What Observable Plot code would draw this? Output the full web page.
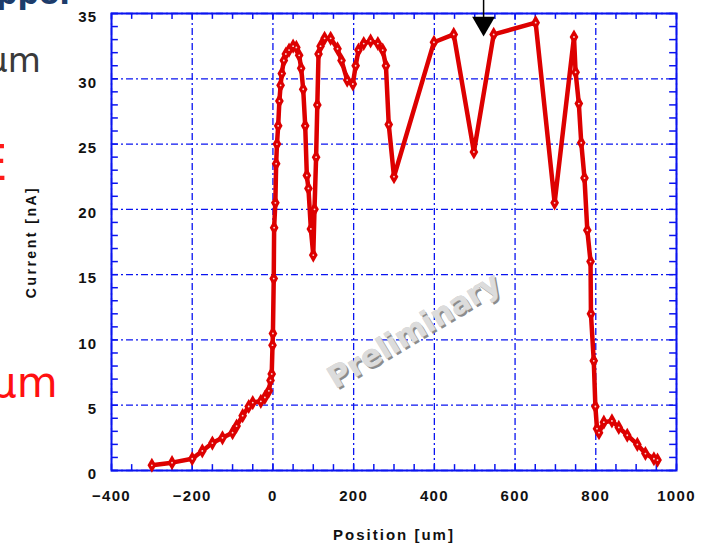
<!DOCTYPE html>
<html>
<head>
<meta charset="utf-8">
<script src="https://cdn.jsdelivr.net/npm/d3@7"></script>
<script src="https://cdn.jsdelivr.net/npm/@observablehq/plot@0.6"></script>
<style>
  html, body { margin: 0; padding: 0; background: #ffffff; }
  #wrap { position: relative; width: 701px; height: 547px; overflow: hidden; background: #fff; }
  #chart { position: absolute; left: 0; top: 0; }
  .frag { position: absolute; white-space: nowrap; font-family: "DejaVu Sans", sans-serif; }
  .wm { letter-spacing: 0px; }
</style>
</head>
<body>
<div id="wrap">
  <div id="chart"></div>
  <div class="frag" style="left:-4px; top:-24px; font-size:30px; font-weight:bold; color:#1d3c6b;">ppor</div>
  <div class="frag" style="left:-14px; top:40px; font-size:34px; color:#3a3a3a;">μm</div>
  <div class="frag" style="left:-24px; top:134px; font-size:50px; color:#ff1a1a;">E</div>
  <div class="frag" style="left:-10px; top:358px; font-size:42px; color:#ff1010;">μm</div>
</div>
<script>
// ---- data ----
const positions = [
  -300, -250, -200, -175, -150, -125, -100, -90, -75, -60, -50, -30, -20, -10, -6, -3,
  -1, 0, 2, 3, 6, 8, 10, 13, 16, 19, 22, 27, 32, 40, 50, 58, 65, 70, 75, 80, 84, 88,
  94, 100, 103, 107, 110, 113, 118, 128, 143, 160, 170, 184, 198, 205, 212, 225, 242,
  260, 272, 280, 287, 300, 399, 448, 498, 547, 651, 698, 746, 750, 758, 764, 772, 779,
  787, 788, 795, 799, 803, 808, 820, 840, 857, 878, 903, 923, 944, 953
];
const currents = [
  0.4, 0.6, 0.9, 1.5, 2.1, 2.5, 2.9, 3.4, 4.2, 4.9, 5.2, 5.3, 5.6, 6.1, 6.9, 7.4,
  9.6, 10.5, 14.7, 18.6, 20.5, 23.5, 25.0, 26.4, 28.3, 29.5, 30.4, 31.4, 31.9, 32.2, 32.5, 32.4, 31.8, 30.8, 29.2, 26.4, 22.6, 21.6,
  18.5, 16.5, 20.0, 24.0, 28.0, 31.9, 32.5, 33.1, 33.1, 32.3, 31.4, 29.9, 29.6, 31.0, 32.2, 32.7, 32.9,
  32.7, 32.2, 31.0, 26.5, 22.5, 32.8, 33.4, 24.4, 33.4, 34.3, 20.5, 33.2, 30.5, 28.1, 25.1, 22.4, 18.4,
  16.0, 12.0, 8.4, 4.9, 3.2, 2.9, 3.7, 3.8, 3.3, 2.7, 2.0, 1.3, 0.9, 0.8
];
const xTicks = [-400, -200, 0, 200, 400, 600, 800, 1000];
const yTicks = [0, 5, 10, 15, 20, 25, 30, 35];
const xMinorTicks = [-400,-350,-300,-250,-200,-150,-100,-50,0,50,100,150,200,250,300,350,400,450,500,550,600,650,700,750,800,850,900,950,1000];
const yMinorTicks = [0,1,2,3,4,5,6,7,8,9,10,11,12,13,14,15,16,17,18,19,20,21,22,23,24,25,26,27,28,29,30,31,32,33,34,35];
const xLabel = "Position [um]";
const yLabel = "Current [nA]";
const watermark = "Preliminary";
const arrowX = 522;

const data = positions.map((x, i) => ({x, y: currents[i]}));

const blue = "#0a14f0";
const red = "#dd0000";
const tickFont = {fontSize: 15, fontWeight: "bold", fill: "#111"};

const chart = Plot.plot({
  width: 701,
  height: 547,
  marginLeft: 111,
  marginRight: 25,
  marginTop: 13,
  marginBottom: 77,
  style: {fontFamily: "'Liberation Sans', Arial, sans-serif", letterSpacing: "1.3px", background: "transparent"},
  x: {domain: [-400, 1000]},
  y: {domain: [0, 35]},
  marks: [
    Plot.gridX(xTicks, {stroke: blue, strokeOpacity: 1, strokeWidth: 1.3, strokeDasharray: "7,3,2,3"}),
    Plot.gridY(yTicks, {stroke: blue, strokeOpacity: 1, strokeWidth: 1.3, strokeDasharray: "7,3,2,3"}),
    // inward minor/major ticks on all four sides
    Plot.ruleX(xMinorTicks, {x: d => d, y1: 0, y2: 0.45, stroke: blue, strokeWidth: 1.5}),
    Plot.ruleX(xMinorTicks, {x: d => d, y1: 35, y2: 34.55, stroke: blue, strokeWidth: 1.5}),
    Plot.ruleY(yMinorTicks, {y: d => d, x1: -400, x2: -383, stroke: blue, strokeWidth: 1.5}),
    Plot.ruleY(yMinorTicks, {y: d => d, x1: 1000, x2: 983, stroke: blue, strokeWidth: 1.5}),
    Plot.frame({stroke: blue, strokeWidth: 2}),
    Plot.axisX({ticks: xTicks, tickFormat: d3.format("d"), tickSize: 0, tickPadding: 20, label: null, ...tickFont}),
    Plot.axisY({ticks: yTicks, tickFormat: d3.format("d"), tickSize: 0, tickPadding: 14, label: null, dy: 4, ...tickFont}),
    Plot.text([xLabel], {frameAnchor: "bottom", dy: 69, fontSize: 15, fontWeight: "bold", fill: "#111"}),
    Plot.text([yLabel], {frameAnchor: "left", textAnchor: "middle", dx: -80, dy: 0, rotate: -90, fontSize: 14, fontWeight: "bold", fill: "#111"}),
    // watermark
    Plot.text([watermark], {x: () => 350, y: () => 10.7, dx: 2, dy: 2, rotate: -31, fontSize: 30, fontWeight: "bold", fontFamily: "'DejaVu Sans', sans-serif", fill: "#8c8c8c", className: "wm"}),
    Plot.text([watermark], {x: () => 350, y: () => 10.7, rotate: -31, fontSize: 30, fontWeight: "bold", fontFamily: "'DejaVu Sans', sans-serif", fill: "#dcdcdc", stroke: "#c4c4c4", strokeWidth: 0.5, className: "wm"}),
    // data
    Plot.line(data, {x: "x", y: "y", stroke: red, strokeWidth: 4.5, strokeLinejoin: "round"}),
    Plot.dot(data, {x: "x", y: "y", symbol: "diamond", r: 4.6, fill: red}),
    Plot.dot(data, {x: "x", y: "y", r: 0.9, fill: "#ffffff", fillOpacity: 0.85}),
    // arrow annotation at top
    Plot.ruleX([arrowX], {x: d => d, y1: 36.2, y2: 34.5, stroke: "#000", strokeWidth: 1.5}),
    Plot.dot([arrowX], {x: d => d, y: () => 34.25, symbol: "triangle", r: 8.5, rotate: 180, fill: "#000"})
  ]
});
// axis-label letter spacing (wider lettering as in the reference)
chart.querySelectorAll("text").forEach(t => {
  if (t.textContent === xLabel) t.setAttribute("letter-spacing", "2px");
  if (t.textContent === yLabel) t.setAttribute("letter-spacing", "2.5px");
});
document.getElementById("chart").appendChild(chart);
</script>
</body>
</html>
